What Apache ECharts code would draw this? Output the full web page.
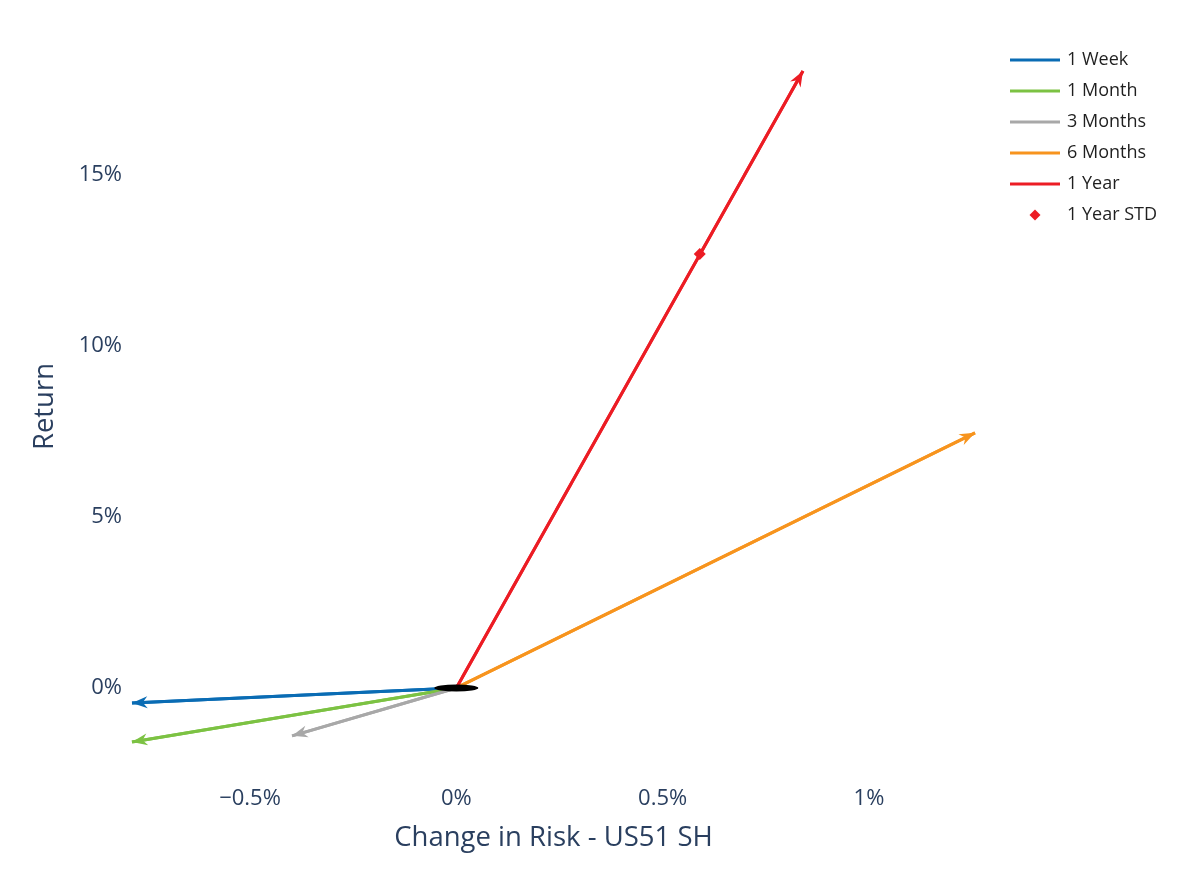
<!DOCTYPE html>
<html>
<head>
<meta charset="utf-8">
<script src="https://cdn.jsdelivr.net/npm/echarts@6/dist/echarts.min.js"></script>
<style>html,body{margin:0;padding:0;background:#fff}#chart{width:1197px;height:874px}</style>
</head>
<body>
<div id="chart"></div>
<script>
// ---- data ----
const periods = ['1 Week', '1 Month', '3 Months', '6 Months', '1 Year'];
const riskChange = [-0.786, -0.786, -0.398, 1.257, 0.840];   // % change in risk
const returns = [-0.44, -1.58, -1.40, 7.46, 18.04];           // % return
const stdName = '1 Year STD';
const stdRisk = [0.590];
const stdReturn = [12.69];
const originX = [0];
const originY = [0];
const xTicks = [-0.5, 0, 0.5, 1];
const yTicks = [0, 5, 10, 15];
const colors = ['#0a6cb4', '#7cc243', '#a8a8a8', '#f7941e', '#ec1c24'];

const font = 'Open Sans';
const axisColor = '#2a3f5f';
// arrow head whose tip sits at the symbol centre
const arrowPath = 'path://M5,-13 L5,-13 Z M5,0 L10,13 L5,9 L0,13 Z';
const lineIcon = 'path://M0,0 H50 V3 H0 Z';
const diamondIcon = 'path://M5,0 L10,5 L5,10 L0,5 Z';

const allX = riskChange.concat(stdRisk, originX);
const allY = returns.concat(stdReturn, originY);
const xMin = Math.min(...allX), xMax = Math.max(...allX);
const yMin = Math.min(...allY), yMax = Math.max(...allY);

function fmtPct(v) {
  const s = (Math.round(v * 100) / 100).toString() + '%';
  return v < 0 ? '\u2212' + s.slice(1) : s;
}

const series = periods.map((name, i) => ({
  name: name,
  type: 'line',
  data: [[originX[0], originY[0]], [riskChange[i], returns[i]]],
  symbol: 'none',
  showSymbol: false,
  lineStyle: { color: colors[i], width: 3 },
  itemStyle: { color: colors[i] },
  z: 2,
  animation: false,
  markLine: {
    silent: true,
    animation: false,
    symbol: ['none', arrowPath],
    symbolSize: [12, 31],
    label: { show: false },
    lineStyle: { color: colors[i], width: 3, type: 'solid', opacity: 1 },
    data: [[{ coord: [originX[0], originY[0]] }, { coord: [riskChange[i], returns[i]] }]]
  }
}));

series.push({
  name: stdName,
  type: 'scatter',
  data: stdRisk.map((x, i) => [x, stdReturn[i]]),
  symbol: 'diamond',
  symbolSize: 12,
  itemStyle: { color: colors[4], opacity: 1 },
  z: 5,
  animation: false
});

series.push({
  name: 'origin',
  type: 'scatter',
  data: originX.map((x, i) => [x, originY[i]]),
  symbol: 'circle',
  symbolSize: [44, 7],
  itemStyle: { color: '#000', opacity: 1 },
  silent: true,
  z: 6,
  animation: false
});

const legendData = periods.map((name, i) => ({ name: name, icon: lineIcon, itemStyle: { color: colors[i] } }))
  .concat([{ name: stdName, icon: diamondIcon, itemStyle: { color: colors[4] } }]);

const chart = echarts.init(document.getElementById('chart'));
chart.setOption({
  animation: false,
  backgroundColor: '#fff',
  textStyle: { fontFamily: font },
  grid: { left: 132, top: 71, width: 843, height: 671, containLabel: false },
  legend: {
    orient: 'vertical',
    left: 1005,
    top: 46,
    itemWidth: 50,
    itemHeight: 11,
    itemGap: 13,
    symbolKeepAspect: true,
    data: legendData,
    textStyle: { fontFamily: font, fontSize: 18, color: '#1f1f1f', padding: [0, 0, 0, 2] }
  },
  xAxis: {
    type: 'value',
    min: xMin,
    max: xMax,
    name: 'Change in Risk - US51 SH',
    nameLocation: 'middle',
    nameGap: 82,
    nameTextStyle: { fontFamily: font, fontSize: 27.5, color: axisColor },
    axisLine: { show: false },
    axisTick: { show: false },
    splitLine: { show: false },
    axisLabel: {
      customValues: xTicks,
      formatter: fmtPct,
      margin: 46,
      fontFamily: font, fontSize: 22, color: axisColor
    }
  },
  yAxis: {
    type: 'value',
    min: yMin,
    max: yMax,
    name: 'Return',
    nameLocation: 'middle',
    nameGap: 73,
    nameTextStyle: { fontFamily: font, fontSize: 27.5, color: axisColor },
    axisLine: { show: false },
    axisTick: { show: false },
    splitLine: { show: false },
    axisLabel: {
      customValues: yTicks,
      formatter: fmtPct,
      margin: 10,
      padding: [6, 0, 0, 0],
      fontFamily: font, fontSize: 22, color: axisColor
    }
  },
  series: series
});
</script>
</body>
</html>
